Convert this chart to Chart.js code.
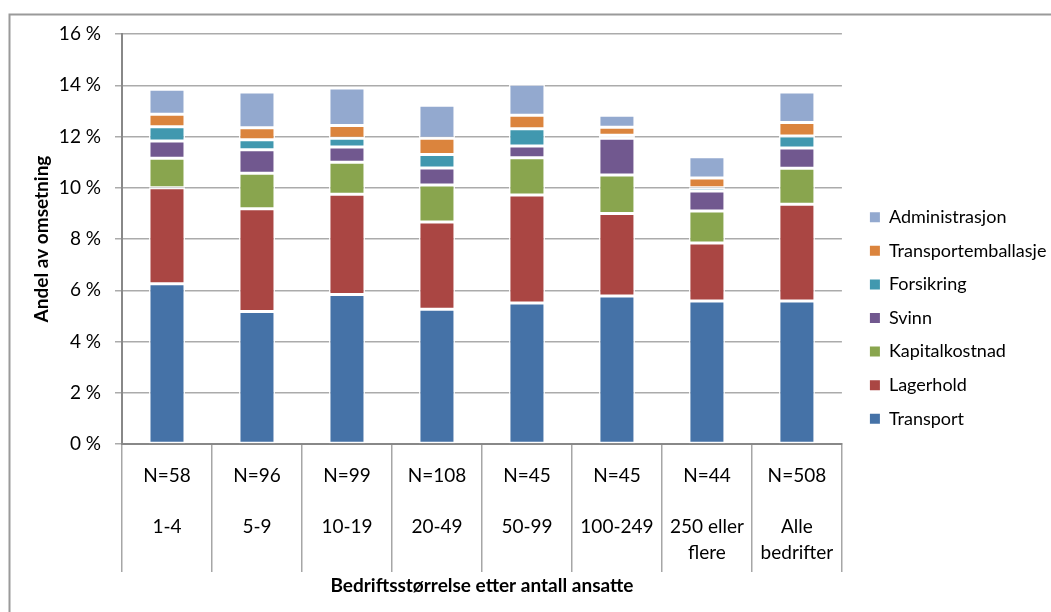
<!DOCTYPE html>
<html lang="no">
<head>
<meta charset="utf-8">
<title>Logistikkostnader etter bedriftsstørrelse</title>
<script src="https://cdn.jsdelivr.net/npm/chart.js@4.4.1/dist/chart.umd.min.js"></script>
<style>
  html, body { margin: 0; padding: 0; background: #ffffff; }
  #wrap { position: relative; width: 1051px; height: 612px; }
</style>
</head>
<body>
<div id="wrap"><canvas id="chart" width="1051" height="612"></canvas></div>
<script>
// Respondents per size group and the size groups themselves
const nLabels = ['N=58', 'N=96', 'N=99', 'N=108', 'N=45', 'N=45', 'N=44', 'N=508'];
const sizeGroups = [['1-4'], ['5-9'], ['10-19'], ['20-49'], ['50-99'], ['100-249'], ['250 eller', 'flere'], ['Alle', 'bedrifter']];

// Cost components, share of turnover (%)
const transport           = [6.25, 5.17, 5.83, 5.26, 5.50, 5.78, 5.58, 5.58];
const lagerhold           = [3.75, 4.01, 3.92, 3.40, 4.22, 3.22, 2.26, 3.78];
const kapitalkostnad      = [1.15, 1.39, 1.25, 1.45, 1.45, 1.50, 1.25, 1.40];
const svinn               = [0.67, 0.91, 0.59, 0.66, 0.46, 1.43, 0.78, 0.79];
const forsikring          = [0.56, 0.39, 0.34, 0.53, 0.67, 0.12, 0.13, 0.47];
const transportemballasje = [0.49, 0.47, 0.50, 0.63, 0.53, 0.31, 0.38, 0.53];
const administrasjon      = [0.97, 1.40, 1.46, 1.29, 1.21, 0.47, 0.83, 1.19];

// Y axis ticks (%)
const yTicks = [0, 2, 4, 6, 8, 10, 12, 14, 16];

const FONT = 'Lato, "Open Sans", "Liberation Sans", sans-serif';
const FS = 19;
const LEGEND_FS = 18;

const labels = nLabels.map((n, i) => [n, '', ...sizeGroups[i]]);

const series = [
  { label: 'Transport',           data: transport,           color: '#4572A7' },
  { label: 'Lagerhold',           data: lagerhold,           color: '#AA4643' },
  { label: 'Kapitalkostnad',      data: kapitalkostnad,      color: '#89A54E' },
  { label: 'Svinn',               data: svinn,               color: '#71588F' },
  { label: 'Forsikring',          data: forsikring,          color: '#4198AF' },
  { label: 'Transportemballasje', data: transportemballasje, color: '#DB843D' },
  { label: 'Administrasjon',      data: administrasjon,      color: '#93A9CF' }
];

// Thin frame around the whole chart (its right/bottom edges run off the page)
const framePlugin = {
  id: 'frame',
  beforeDraw(chart) {
    const ctx = chart.ctx;
    ctx.save();
    ctx.strokeStyle = '#9a9a9a';
    ctx.lineWidth = 2;
    ctx.strokeRect(9.5, 14.5, 1200, 800);
    ctx.restore();
  }
};

// Legend sits a fixed distance right of the plot area
const legendShift = {
  id: 'legendShift',
  afterLayout(chart) {
    if (chart.legend) {
      const dx = chart.chartArea.right + 12.4 - chart.legend.left;
      chart.legend.left += dx;
      chart.legend.right += dx;
    }
  }
};

new Chart(document.getElementById('chart'), {
  type: 'bar',
  data: {
    labels: labels,
    datasets: series.map(s => ({
      label: s.label,
      data: s.data,
      backgroundColor: s.color,
      borderColor: 'rgba(255,255,255,0.9)',
      borderWidth: 1.5,
      borderSkipped: false,
      barPercentage: 0.4,
      categoryPercentage: 1.0
    }))
  },
  options: {
    responsive: false,
    animation: false,
    layout: { padding: { left: 28, top: 34, right: 7, bottom: 10 } },
    plugins: {
      tooltip: { enabled: false },
      legend: {
        position: 'right',
        reverse: true,
        labels: {
          boxWidth: 10,
          boxHeight: 10,
          padding: 33.6 - LEGEND_FS,
          color: '#000',
          font: { family: FONT, size: LEGEND_FS },
          generateLabels(chart) {
            const items = Chart.defaults.plugins.legend.labels.generateLabels(chart);
            items.forEach(it => { it.lineWidth = 0; it.strokeStyle = it.fillStyle; });
            return items;
          }
        }
      }
    },
    scales: {
      x: {
        stacked: true,
        offset: true,
        border: { color: '#888888', width: 2 },
        grid: {
          offset: true,
          drawOnChartArea: false,
          drawTicks: true,
          tickLength: 128,
          color: '#a6a6a6',
          lineWidth: 1.5
        },
        ticks: {
          autoSkip: false,
          maxRotation: 0,
          minRotation: 0,
          padding: 19.25 - 128,
          color: '#000',
          font: { family: FONT, size: FS, lineHeight: '25.5px' }
        },
        title: {
          display: true,
          text: 'Bedriftsstørrelse etter antall ansatte',
          color: '#000',
          font: { family: FONT, size: FS, weight: 'bold', lineHeight: 1.2 },
          padding: { top: 0, bottom: 4.6 }
        },
        afterFit(scale) { scale.height = 158; }
      },
      y: {
        stacked: true,
        min: yTicks[0],
        max: yTicks[yTicks.length - 1],
        border: { color: '#888888', width: 2 },
        grid: {
          color: '#ababab',
          lineWidth: 1.5,
          drawTicks: true,
          tickLength: 7
        },
        ticks: {
          stepSize: yTicks[1] - yTicks[0],
          padding: 14,
          color: '#000',
          font: { family: FONT, size: FS },
          callback: v => v + ' %'
        },
        afterBuildTicks(scale) { scale.ticks = yTicks.map(v => ({ value: v })); },
        title: {
          display: true,
          text: 'Andel av omsetning',
          color: '#000',
          font: { family: FONT, size: FS, weight: 'bold', lineHeight: 1.2 },
          padding: { top: 2.6, bottom: 0 }
        },
        afterFit(scale) { scale.width = 94; }
      }
    }
  },
  plugins: [framePlugin, legendShift]
});
</script>
</body>
</html>
